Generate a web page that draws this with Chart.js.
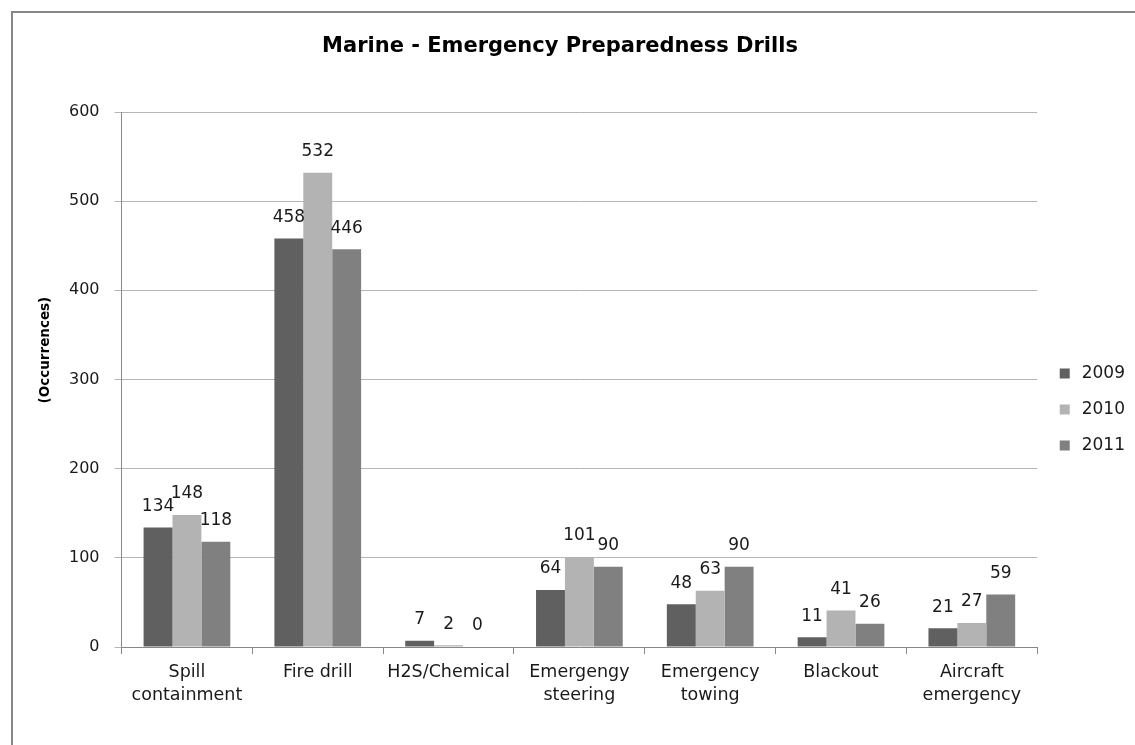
<!DOCTYPE html>
<html>
<head>
<meta charset="utf-8">
<script src="https://cdn.jsdelivr.net/npm/chart.js@4.4.1/dist/chart.umd.min.js"></script>
<style>
  html, body { margin: 0; padding: 0; background: #fff; overflow: hidden; }
  #marco { position: absolute; left: 11px; top: 11px; width: 1200px; height: 800px;
           border-left: 2px solid #888; border-top: 2px solid #888; }
  #lienzo { position: absolute; left: 0; top: 0; }
</style>
</head>
<body>
<div id="marco"></div>
<canvas id="lienzo" width="1135" height="745"></canvas>
<script>
// --- DATOS DEL GRAFICO ---
const titulo = 'Marine - Emergency Preparedness Drills';
const categorias = [
    ["Spill", "containment"], "Fire drill", "H2S/Chemical",
    ["Emergengy", "steering"], ["Emergency", "towing"], "Blackout", ["Aircraft", "emergency"]
];
const anios = ["2009", "2010", "2011"];
const valores2009 = [134, 458, 7, 64, 48, 11, 21];
const valores2010 = [148, 532, 2, 101, 63, 41, 27];
const valores2011 = [118, 446, 0, 90, 90, 26, 59];
const colores = ['#606060', '#b3b3b3', '#808080'];

const fuente = "'DejaVu Sans', sans-serif";

// etiquetas de valor encima de cada barra
const etiquetasValor = {
    id: 'etiquetasValor',
    afterDatasetsDraw(chart) {
        const ctx = chart.ctx;
        ctx.save();
        ctx.font = "17px " + fuente;
        ctx.fillStyle = '#1a1a1a';
        ctx.textAlign = 'center';
        ctx.textBaseline = 'middle';
        chart.data.datasets.forEach((ds, i) => {
            chart.getDatasetMeta(i).data.forEach((barra, j) => {
                ctx.fillText(ds.data[j], barra.x, barra.y - 21);
            });
        });
        ctx.restore();
    }
};

// titulo principal y titulo del eje Y
const textosFijos = {
    id: 'textosFijos',
    afterDraw(chart) {
        const a = chart.chartArea;
        const ctx = chart.ctx;
        ctx.save();
        ctx.fillStyle = '#000';
        ctx.textAlign = 'center';
        ctx.textBaseline = 'middle';
        ctx.font = "bold 21px " + fuente;
        ctx.fillText(titulo, 560, 47);
        ctx.translate(45, a.top + (a.bottom - a.top) * 0.445);
        ctx.rotate(-Math.PI / 2);
        ctx.font = "bold 13.5px " + fuente;
        ctx.fillText('(Occurrences)', 0, 0);
        ctx.restore();
    }
};

new Chart(document.getElementById('lienzo').getContext('2d'), {
    type: 'bar',
    data: {
        labels: categorias,
        datasets: [
            { label: anios[0], data: valores2009, backgroundColor: colores[0] },
            { label: anios[1], data: valores2010, backgroundColor: colores[1] },
            { label: anios[2], data: valores2011, backgroundColor: colores[2] }
        ]
    },
    options: {
        responsive: false,
        animation: false,
        layout: { padding: { left: 54, top: 112, right: 0, bottom: 38 } },
        datasets: { bar: { categoryPercentage: 0.663, barPercentage: 1.0 } },
        plugins: {
            title: { display: false },
            legend: {
                position: 'right',
                labels: {
                    usePointStyle: true, pointStyle: 'rect',
                    boxWidth: 17, boxHeight: 10, padding: 19,
                    color: '#1a1a1a',
                    font: { family: fuente, size: 17 }
                }
            },
            tooltip: { enabled: false }
        },
        scales: {
            x: {
                afterFit(escala) { escala.height = 60; },
                grid: { display: true, drawOnChartArea: false, drawTicks: true, tickLength: 7, color: '#888' },
                border: { color: '#888' },
                ticks: { autoSkip: false, color: '#1a1a1a', font: { family: fuente, size: 17.5, lineHeight: 1.33 }, maxRotation: 0, padding: 7 }
            },
            y: {
                min: 0, max: 600,
                ticks: { stepSize: 100, color: '#1a1a1a', font: { family: fuente, size: 16 }, padding: 15 },
                grid: { color: '#b5b5b5', tickLength: 7 },
                border: { color: '#888' }
            }
        }
    },
    plugins: [etiquetasValor, textosFijos]
});
</script>
</body>
</html>
